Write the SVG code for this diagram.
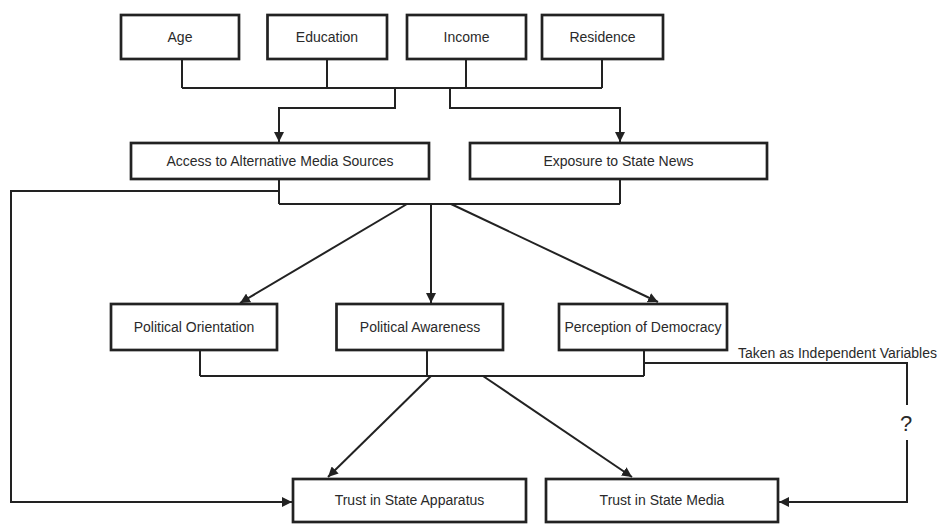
<svg xmlns="http://www.w3.org/2000/svg" width="939" height="524" viewBox="0 0 939 524">
<defs>
<style>
.box{fill:#fff;stroke:#222;stroke-width:2.7}
.ln{fill:none;stroke:#222;stroke-width:2}
.t{font-family:"Liberation Sans",Arial,sans-serif;font-size:14px;fill:#2a2a2a;text-anchor:middle;dominant-baseline:central}
</style>
<marker id="ah" viewBox="0 0 10 10" refX="10" refY="5" markerWidth="10" markerHeight="10" markerUnits="userSpaceOnUse" orient="auto">
<path d="M0,0 L10,5 L0,10 z" fill="#222"/>
</marker>
</defs>
<rect width="939" height="524" fill="#fff"/>
<g id="connectors">
<path class="ln" d="M182,59 V88 M327,59 V88 M466,59 V88 M602,59 V88 M182,88 H602"/>
<path class="ln" d="M395,88 V108 H279 V142" marker-end="url(#ah)"/>
<path class="ln" d="M450,88 V108 H620 V142" marker-end="url(#ah)"/>
<path class="ln" d="M279,179 V204 M620,179 V204 M279,204 H620"/>
<path class="ln" d="M279,191 H11 V502 H292" marker-end="url(#ah)"/>
<path class="ln" d="M407,204 L240,303" marker-end="url(#ah)"/>
<path class="ln" d="M431,204 V303" marker-end="url(#ah)"/>
<path class="ln" d="M451,204 L658,302" marker-end="url(#ah)"/>
<path class="ln" d="M200,350 V376 M427,350 V376 M644,350 V376 M200,376 H644"/>
<path class="ln" d="M644,363 H907 V405 M907,440 V502 H779" marker-end="url(#ah)"/>
<path class="ln" d="M431,376 L328,477" marker-end="url(#ah)"/>
<path class="ln" d="M483,376 L632,477" marker-end="url(#ah)"/>
<text class="t" x="738" y="353" style="text-anchor:start">Taken as Independent Variables</text>
<text class="t" x="906" y="423" style="font-size:22px">?</text>
</g>
<g id="age"><rect class="box" x="121" y="15" width="118" height="44"/><text class="t" x="180" y="37">Age</text></g>
<g id="education"><rect class="box" x="267.5" y="15" width="119.5" height="44"/><text class="t" x="327" y="37">Education</text></g>
<g id="income"><rect class="box" x="407" y="15" width="119" height="44"/><text class="t" x="466.5" y="37">Income</text></g>
<g id="residence"><rect class="box" x="542" y="15" width="121" height="44"/><text class="t" x="602.5" y="37">Residence</text></g>
<g id="access"><rect class="box" x="131" y="143" width="298" height="36"/><text class="t" x="280" y="161">Access to Alternative Media Sources</text></g>
<g id="exposure"><rect class="box" x="470" y="143" width="297" height="36"/><text class="t" x="618.5" y="161">Exposure to State News</text></g>
<g id="orientation"><rect class="box" x="111" y="304" width="166" height="46"/><text class="t" x="194" y="327">Political Orientation</text></g>
<g id="awareness"><rect class="box" x="336.5" y="304" width="166.5" height="46"/><text class="t" x="420" y="327">Political Awareness</text></g>
<g id="democracy"><rect class="box" x="559" y="304" width="168" height="46"/><text class="t" x="643" y="327">Perception of Democracy</text></g>
<g id="trust-apparatus"><rect class="box" x="293" y="479" width="233" height="43"/><text class="t" x="409.5" y="500">Trust in State Apparatus</text></g>
<g id="trust-media"><rect class="box" x="546" y="479" width="232" height="43"/><text class="t" x="662" y="500">Trust in State Media</text></g>
</svg>
